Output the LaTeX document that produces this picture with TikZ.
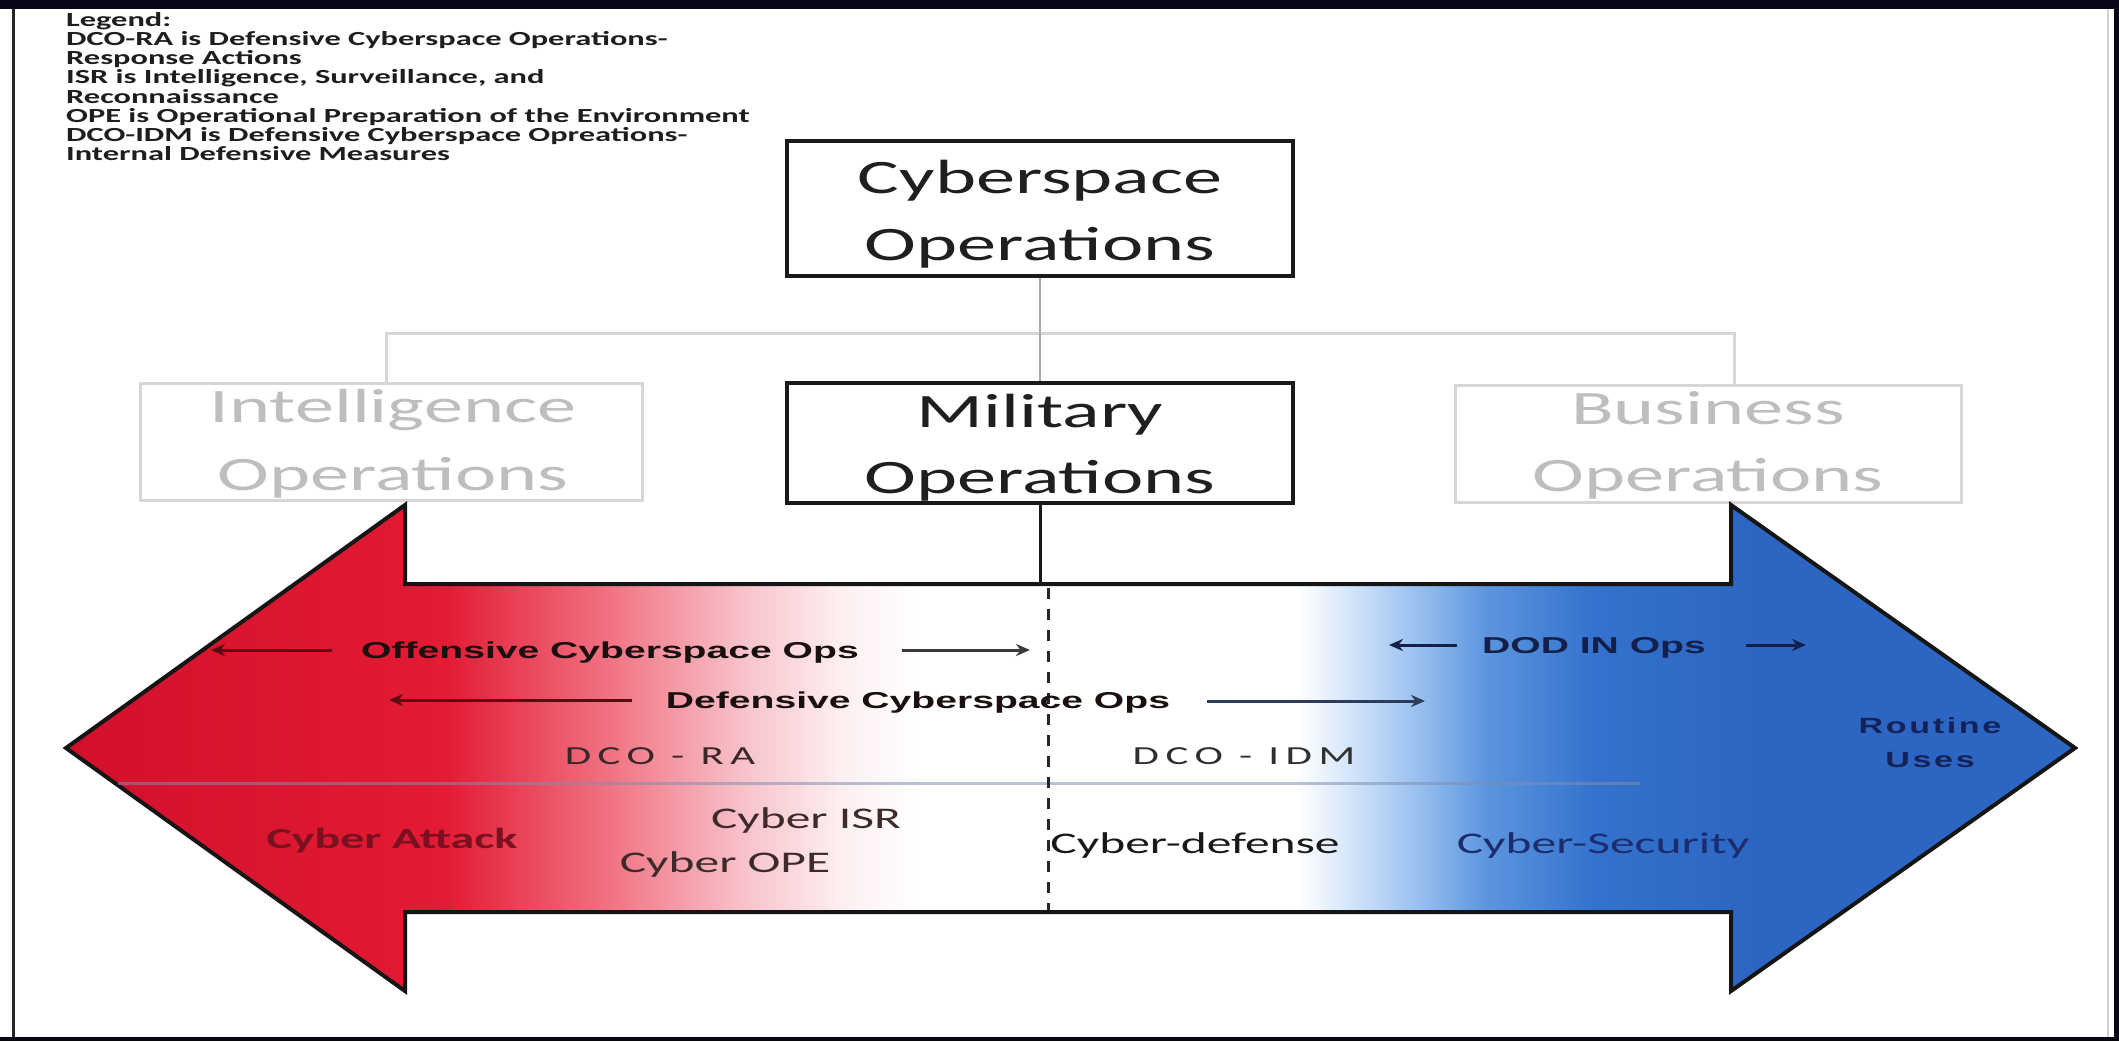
\documentclass[tikz,border=0pt]{standalone}
\usepackage{fontspec}
\usetikzlibrary{arrows.meta}
\newfontfamily\boxf{Carlito}[FakeStretch=1.63]
\newfontfamily\legf{Carlito}[FakeStretch=1.62]
\newfontfamily\opsf{Liberation Sans}[FakeStretch=1.7]
\newfontfamily\dcof{Carlito}[FakeStretch=1.65,LetterSpace=25]
\newfontfamily\routf{Liberation Sans}[FakeStretch=1.55,LetterSpace=12]
\newfontfamily\cybf{Carlito}[FakeStretch=1.65]

\definecolor{framedark}{HTML}{070718}
\definecolor{rdeep}{HTML}{D2102A}
\definecolor{rmain}{HTML}{E31B34}
\definecolor{rpa}{HTML}{F07282}
\definecolor{rpb}{HTML}{F8C2CA}
\definecolor{rpc}{HTML}{FDEEF0}
\definecolor{bpa}{HTML}{D2E4FA}
\definecolor{bpb}{HTML}{97BFEF}
\definecolor{bpc}{HTML}{5C95DE}
\definecolor{bmain}{HTML}{3372CE}
\definecolor{bdeep}{HTML}{2C66C2}
\definecolor{fadeline}{HTML}{D6D6D6}
\definecolor{fadetext}{HTML}{BEBEBE}
\definecolor{conncol}{HTML}{A8A8A8}
\definecolor{legcol}{HTML}{1E1E1E}
\definecolor{navytxt}{HTML}{14225A}
\definecolor{attackcol}{HTML}{7A1020}
\definecolor{isrcol}{HTML}{3D2B2B}
\definecolor{secol}{HTML}{1C2C6C}
\definecolor{dcored}{HTML}{3A2626}
\definecolor{dcogray}{HTML}{303030}
\definecolor{opsdark}{HTML}{1A1010}
\definecolor{dodcol}{HTML}{14204A}
\definecolor{arrred}{HTML}{5A0C12}
\definecolor{arrgray}{HTML}{3A3A3A}
\definecolor{arrblue}{HTML}{2E3C5C}
\definecolor{sepcol}{HTML}{7F8FB0}
\definecolor{outline}{HTML}{151515}

\pgfdeclarehorizontalshading{rwb}{100bp}{color(0bp)=(rdeep); color(25bp)=(rdeep); color(34.46bp)=(rmain); color(38.49bp)=(rpa); color(41.85bp)=(rpb); color(44.22bp)=(rpc); color(46.23bp)=(white); color(55.64bp)=(white); color(56.98bp)=(bpa); color(58.68bp)=(bpb); color(60.35bp)=(bpc); color(63.06bp)=(bmain); color(66.92bp)=(bdeep); color(75bp)=(bdeep); color(100bp)=(bdeep)}

\begin{document}
\begin{tikzpicture}[x=1pt,y=-1pt,
  mainbox/.style={draw=black!90, line width=4.5pt, inner sep=0pt, minimum width=506pt},
  fadebox/.style={draw=fadeline, line width=3pt, inner sep=0pt},
  boxtxt/.style={font=\boxf\fontsize{48}{58}\selectfont, anchor=base, inner sep=0pt, text=black!88},
  fadetxt/.style={boxtxt, text=fadetext},
  legtxt/.style={font=\legf\bfseries\fontsize{20}{20}\selectfont, anchor=base west, inner sep=0pt, text=legcol},
  opstxt/.style={font=\opsf\bfseries\fontsize{23}{23}\selectfont, anchor=base, inner sep=0pt},
  dcotxt/.style={font=\dcof\fontsize{26}{26}\selectfont, anchor=base, inner sep=0pt},
  cybtxt/.style={font=\cybf\fontsize{30}{30}\selectfont, anchor=base, inner sep=0pt},
  routtxt/.style={font=\routf\bfseries\fontsize{22}{22}\selectfont, anchor=base, inner sep=0pt, text=navytxt},
  sarrow/.style={line width=3pt, -{Stealth[length=14pt,width=12pt]}},
]
\useasboundingbox (0,0) rectangle (2119,1041);
% frame
\fill[white] (0,0) rectangle (2119,1041);
\fill[framedark] (0,0) rectangle (2119,9);
\fill[framedark] (2114,0) rectangle (2119,1041);
\fill[framedark] (0,1037) rectangle (2119,1041);
\draw[line width=3pt, black!85] (13,9) -- (13,1037);
\draw[line width=1.5pt, black!18] (2108,9) -- (2108,1037);

% legend
\node[legtxt] (leg1) at (66,27) {Legend:};
\node[legtxt] (leg2) at (66,46) {DCO-RA is Defensive Cyberspace Operations-};
\node[legtxt] (leg3) at (66,65) {Response Actions};
\node[legtxt] (leg4) at (66,84) {ISR is Intelligence, Surveillance, and};
\node[legtxt] (leg5) at (66,103) {Reconnaissance};
\node[legtxt] (leg6) at (66,122) {OPE is Operational Preparation of the Environment};
\node[legtxt] (leg7) at (66,141) {DCO-IDM is Defensive Cyberspace Opreations-};
\node[legtxt] (leg8) at (66,160) {Internal Defensive Measures};

% boxes
\node[mainbox, minimum height=135pt] (cyber) at (1040,208.5) {};
\node[mainbox, minimum height=120pt] (mil) at (1040,443) {};
\node[fadebox, minimum width=502pt, minimum height=117pt] (intel) at (391,441.5) {};
\node[fadebox, minimum width=506pt, minimum height=117pt] (biz) at (1708,443.5) {};

% connectors
\coordinate (hl) at (386,333);
\coordinate (hr) at (1734,333);
\draw[line width=3pt, fadeline] (intel.north -| hl) -- (hl) -- (hr) -- (biz.north -| hr);
\draw[line width=2pt, conncol] (cyber.south) -- (mil.north);

% box texts
\node[boxtxt] (cyberT1) at (1040,193) {Cyberspace};
\node[boxtxt] (cyberT2) at (1040,260) {Operations};
\node[boxtxt] (milT1) at (1040,427) {Military};
\node[boxtxt] (milT2) at (1040,493) {Operations};
\node[fadetxt] (intelT1) at (393,422) {Intelligence};
\node[fadetxt] (intelT2) at (393,490) {Operations};
\node[fadetxt] (bizT1) at (1708,424) {Business};
\node[fadetxt] (bizT2) at (1708,491) {Operations};

% big double arrow
\path[shading=rwb, draw=outline, line width=4pt, line join=miter]
  (66,748) -- (405,505) -- (405,584) -- (1731,584) -- (1731,505) -- (2075,748)
  -- (1731,991) -- (1731,912) -- (405,912) -- (405,991) -- cycle;

% separator
\draw[line width=3pt, sepcol, opacity=0.55] (118,783) -- (1640,783);

% center lines
\coordinate (shaft) at (1040,584);
\coordinate (dtop) at (1048,588);
\coordinate (dbot) at (1048,910);
\draw[line width=3pt, black!90] (mil.south) -- (shaft);
\draw[line width=3pt, black!85, dash pattern=on 11pt off 10pt] (dtop) -- (dbot);

% ops labels
\node[opstxt, text=opsdark] (off) at (610,658) {Offensive Cyberspace Ops};
\node[opstxt, text=opsdark] (def) at (918,708) {Defensive Cyberspace Ops};
\node[opstxt, text=dodcol] (dod) at (1594,653) {DOD IN Ops};

\coordinate (offA) at (332,650); \coordinate (offAt) at (211,650);
\coordinate (offB) at (902,650); \coordinate (offBt) at (1030,650);
\coordinate (defA) at (632,700); \coordinate (defAt) at (389,700);
\coordinate (defB) at (1207,701); \coordinate (defBt) at (1425,701);
\coordinate (dodA) at (1457,645); \coordinate (dodAt) at (1389,645);
\coordinate (dodB) at (1746,645); \coordinate (dodBt) at (1806,645);
\draw[sarrow, arrred] (offA) -- (offAt);
\draw[sarrow, arrgray] (offB) -- (offBt);
\draw[sarrow, arrred] (defA) -- (defAt);
\draw[sarrow, arrblue] (defB) -- (defBt);
\draw[sarrow, dodcol] (dodA) -- (dodAt);
\draw[sarrow, dodcol] (dodB) -- (dodBt);

% row labels
\node[dcotxt, text=dcored] (dcora) at (660,764) {DCO - RA};
\node[dcotxt, text=dcogray] (dcoidm) at (1244,764) {DCO - IDM};
\node[routtxt] (rout1) at (1930,733) {Routine};
\node[routtxt] (rout2) at (1930,767) {Uses};

\node[cybtxt, font=\cybf\bfseries\fontsize{29}{29}\selectfont, text=attackcol] (catk) at (392,848) {Cyber Attack};
\node[cybtxt, text=isrcol] (cisr) at (806,828) {Cyber ISR};
\node[cybtxt, text=isrcol] (cope) at (725,872) {Cyber OPE};
\node[cybtxt, text=black!90] (cdef) at (1195,853) {Cyber-defense};
\node[cybtxt, text=secol] (csec) at (1603,853) {Cyber-Security};
\end{tikzpicture}
\end{document}
